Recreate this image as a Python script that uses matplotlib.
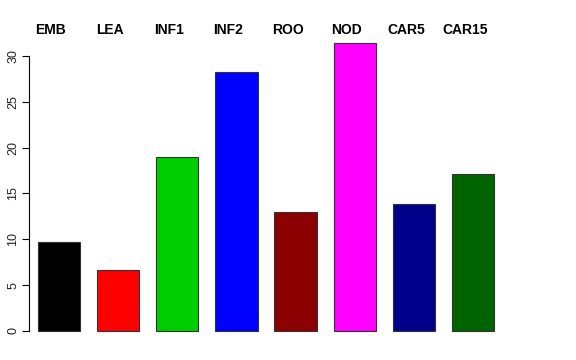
import matplotlib
matplotlib.use("Agg")
import matplotlib.pyplot as plt
from matplotlib.transforms import blended_transform_factory
import numpy as np

labels = ["EMB", "LEA", "INF1", "INF2", "ROO", "NOD", "CAR5", "CAR15"]
values = [9.7, 6.6, 18.95, 28.2, 13.0, 31.4, 13.85, 17.1]
colors = ["#000000", "#FF0000", "#00CD00", "#0000FF",
          "#8B0000", "#FF00FF", "#00008B", "#006400"]
yticks = [0, 5, 10, 15, 20, 25, 30]

plt.rcParams["font.family"] = ["Liberation Sans", "DejaVu Sans"]

fig = plt.figure(figsize=(5.76, 3.6), dpi=100)
ax = fig.add_axes([29 / 576, 17.5 / 360, 474 / 576, 311 / 360])

# bars of width 1 with 0.4 spacing
x = 0.4 + np.arange(len(values)) * 1.4 + 0.5
ax.bar(x, values, width=1.0, color=colors, edgecolor="#333333", linewidth=0.8)

ax.set_xlim(0.19, x[-1] + 0.5 + 0.21)
ymax = max(values)
ax.set_ylim(-0.04 * ymax, ymax * 1.04)

for s in ["top", "right", "bottom"]:
    ax.spines[s].set_visible(False)
ax.spines["left"].set_bounds(0, 30)
ax.spines["left"].set_linewidth(0.8)
ax.set_xticks([])
ax.set_yticks(yticks)
ax.set_yticklabels([str(t) for t in yticks], rotation=90, va="center", fontsize=9)
ax.tick_params(axis="y", length=5, width=0.8, pad=2, labelcolor="#222222")

# group labels above the plot area
trans = blended_transform_factory(ax.transData, fig.transFigure)
for xi, lab in zip(x, labels):
    ax.text(xi - 0.19, 1 - 34 / 360, lab, transform=trans,
            ha="center", va="baseline", fontsize=10, fontweight="bold")

fig.savefig("out.png", dpi=100)
